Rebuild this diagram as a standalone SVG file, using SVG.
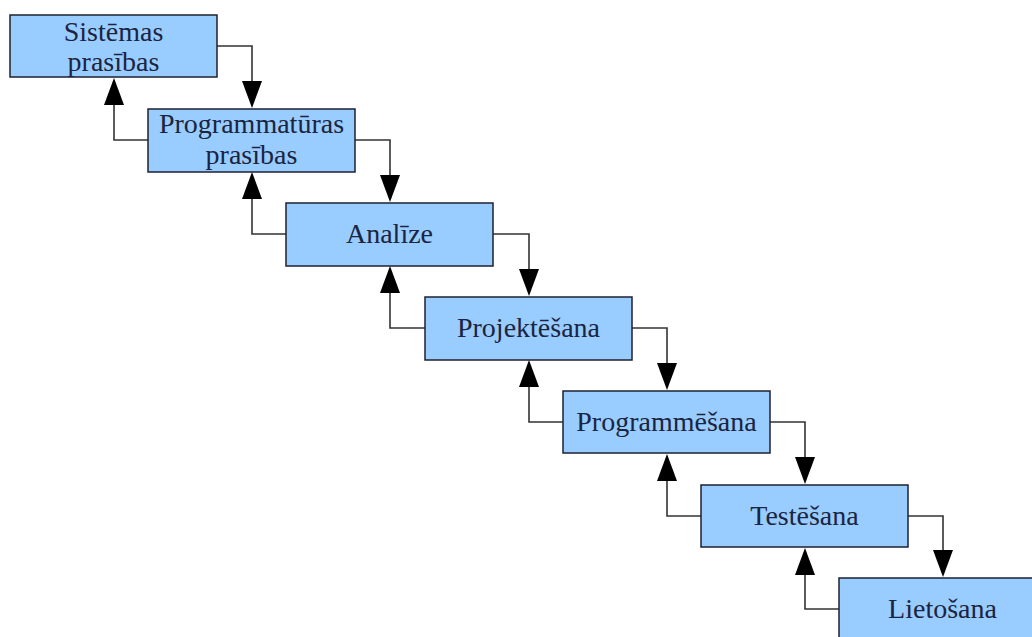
<svg xmlns="http://www.w3.org/2000/svg" width="1032" height="637" viewBox="0 0 1032 637">
<style>
.box{fill:#99ccff;stroke:#1e2230;stroke-width:1.5}
.lbl{font-family:"Liberation Serif","Times New Roman",serif;font-size:28px;fill:#1b2440;text-anchor:middle}
.c{fill:none;stroke:#333;stroke-width:1.6}
.ah{fill:#000}
</style>
<rect width="1032" height="637" fill="#fff"/>
<g id="connectors">
<path class="c" d="M217 46 H252 V82"/>
<polygon class="ah" points="242,81 262,81 252,108"/>
<path class="c" d="M148 140 H114 V104"/>
<polygon class="ah" points="104,105 124,105 114,78"/>
<path class="c" d="M355 140 H390 V176"/>
<polygon class="ah" points="380,175 400,175 390,202"/>
<path class="c" d="M286 234 H252 V198"/>
<polygon class="ah" points="242,199 262,199 252,172"/>
<path class="c" d="M493 234 H529 V270"/>
<polygon class="ah" points="519,269 539,269 529,296"/>
<path class="c" d="M425 328 H390 V292"/>
<polygon class="ah" points="380,293 400,293 390,266"/>
<path class="c" d="M632 328 H667 V364"/>
<polygon class="ah" points="657,363 677,363 667,390"/>
<path class="c" d="M563 422 H529 V386"/>
<polygon class="ah" points="519,387 539,387 529,360"/>
<path class="c" d="M770 422 H805 V458"/>
<polygon class="ah" points="795,457 815,457 805,484"/>
<path class="c" d="M701 516 H667 V480"/>
<polygon class="ah" points="657,481 677,481 667,454"/>
<path class="c" d="M908 516 H943 V551"/>
<polygon class="ah" points="933,550 953,550 943,577"/>
<path class="c" d="M839 609 H805 V574"/>
<polygon class="ah" points="795,575 815,575 805,548"/>
</g>
<g id="n1"><rect class="box" x="10" y="15" width="207" height="62"/><text class="lbl" x="113.5" y="41">Sistēmas</text><text class="lbl" x="113.5" y="71">prasības</text></g>
<g id="n2"><rect class="box" x="148" y="109" width="207" height="63"/><text class="lbl" x="251.5" y="133">Programmatūras</text><text class="lbl" x="251.5" y="164">prasības</text></g>
<g id="n3"><rect class="box" x="286" y="203" width="207" height="63"/><text class="lbl" x="389.5" y="243">Analīze</text></g>
<g id="n4"><rect class="box" x="425" y="297" width="207" height="63"/><text class="lbl" x="528.5" y="337">Projektēšana</text></g>
<g id="n5"><rect class="box" x="563" y="391" width="207" height="62"/><text class="lbl" x="666.5" y="431">Programmēšana</text></g>
<g id="n6"><rect class="box" x="701" y="485" width="207" height="62"/><text class="lbl" x="804.5" y="525">Testēšana</text></g>
<g id="n7"><rect class="box" x="839" y="578" width="207" height="63"/><text class="lbl" x="942.5" y="618">Lietošana</text></g>
</svg>
